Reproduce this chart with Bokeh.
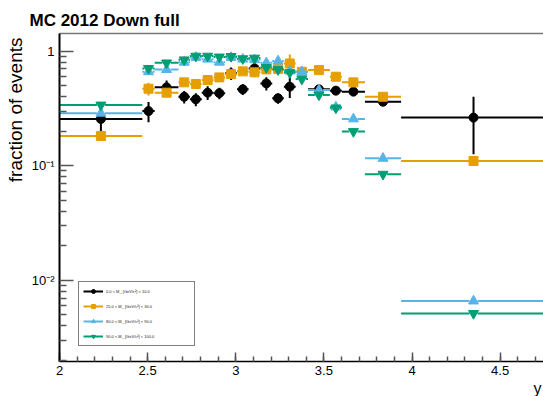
import math
import numpy as np
from bokeh.plotting import figure
from bokeh.models import (Range1d, LinearAxis, FixedTicker, SingleIntervalTicker,
                          CustomJSTickFormatter, Title, Legend, LegendItem, ColumnDataSource)
from bokeh.embed import file_html
from bokeh.resources import INLINE

# ---------------- data ----------------
bin_edges = [2.0, 2.47, 2.54, 2.675, 2.74, 2.807, 2.874, 2.94, 3.007, 3.073, 3.14,
             3.207, 3.273, 3.34, 3.41, 3.534, 3.602, 3.733, 3.938, 4.76]

labels = ["0.0 < M_ [GeV/c\u00b2] < 10.0",
          "25.0 < M_ [GeV/c\u00b2] < 30.0",
          "80.0 < M_ [GeV/c\u00b2] < 90.0",
          "90.0 < M_ [GeV/c\u00b2] < 100.0"]

black_vals = [0.256, 0.30, 0.483, 0.40, 0.38, 0.434, 0.43, 0.64, 0.464, 0.707, 0.523,
              0.388, 0.49, float("nan"), 0.464, 0.452, 0.443, 0.362, 0.263]
black_errs = [0.075, 0.06, 0.07, 0.05, 0.05, 0.06, 0.05, 0.08, 0.05, 0.11, 0.07,
              0.04, 0.10, float("nan"), 0.02, 0.02, 0.02, 0.02, 0.137]

orange_vals = [0.182, 0.47, 0.434, 0.534, 0.517, 0.56, 0.59, 0.63, 0.666, 0.653, 0.693,
               0.70, 0.78, 0.66, 0.683, 0.598, 0.534, 0.40, 0.110]
orange_errs = [0.005, 0.06, 0.02, 0.02, 0.02, 0.02, 0.02, 0.02, 0.02, 0.02, 0.02,
               0.03, 0.155, 0.03, 0.02, 0.02, 0.02, 0.01, 0.003]

blue_vals = [0.287, 0.66, 0.69, 0.80, 0.88, 0.85, 0.80, 0.88, 0.85, 0.84, 0.79,
             0.82, 0.67, 0.66, 0.458, 0.325, 0.256, 0.116, 0.0066]
blue_errs = [0.01, 0.03, 0.02, 0.02, 0.02, 0.02, 0.02, 0.02, 0.02, 0.02, 0.02,
             0.02, 0.03, 0.02, 0.01, 0.01, 0.005, 0.003, 0.0002]

teal_vals = [0.339, 0.707, 0.79, 0.84, 0.905, 0.905, 0.89, 0.90, 0.86, 0.87, 0.72,
             0.69, 0.65, 0.57, 0.415, 0.32, 0.199, 0.0844, 0.00515]
teal_errs = [0.01, 0.03, 0.02, 0.02, 0.02, 0.02, 0.02, 0.02, 0.02, 0.02, 0.02,
             0.02, 0.03, 0.02, 0.01, 0.01, 0.005, 0.003, 0.0002]

x_major_interval = 0.5
y_major_ticks = [0.01, 0.1, 1.0]
y_minor_ticks = [m * 10.0 ** e for e in (-3, -2, -1, 0) for m in range(2, 10)]

# ---------------- figure ----------------
p = figure(width=543, height=396, x_range=Range1d(2.0, 4.746), y_range=Range1d(0.00196, 1.425),
           y_axis_type="log", output_backend="svg", toolbar_location=None, title=None,
           min_border_left=58, min_border_right=0, min_border_top=33, min_border_bottom=34)
p.background_fill_color = "white"
p.border_fill_color = "white"
p.outline_line_color = None
p.xgrid.visible = False
p.ygrid.visible = False

FONT = "Liberation Sans"

xa = p.xaxis[0]
xa.ticker = SingleIntervalTicker(interval=x_major_interval, num_minor_ticks=5)
xa.formatter = CustomJSTickFormatter(code="return String(Math.round(tick*10)/10);")
xa.major_tick_in = 9
xa.major_tick_out = 0
xa.minor_tick_in = 5
xa.minor_tick_out = 0
xa.axis_line_color = "black"
xa.axis_line_width = 1.5
xa.major_tick_line_color = "#555555"
xa.minor_tick_line_color = "#555555"
xa.major_tick_line_width = 1.5
xa.minor_tick_line_width = 1.5
xa.major_label_text_font = FONT
xa.major_label_text_font_size = "13px"
xa.major_label_text_color = "black"
xa.major_label_standoff = 4

ya = p.yaxis[0]
ya.ticker = FixedTicker(ticks=y_major_ticks, minor_ticks=y_minor_ticks)
ya.formatter = CustomJSTickFormatter(code="""
const e = Math.round(Math.log10(tick));
if (e == 0) return '1';
const sup = {'-':'\u207b','0':'\u2070','1':'\u00b9','2':'\u00b2','3':'\u00b3'};
let s = '';
for (const c of String(e)) s += sup[c];
return '10' + s;
""")
ya.major_tick_in = 14
ya.major_tick_out = 0
ya.minor_tick_in = 7
ya.minor_tick_out = 0
ya.axis_line_color = "black"
ya.axis_line_width = 2
ya.major_tick_line_color = "#555555"
ya.minor_tick_line_color = "#555555"
ya.major_tick_line_width = 1.5
ya.minor_tick_line_width = 1.5
ya.major_label_text_font = FONT
ya.major_label_text_font_size = "13px"
ya.major_label_text_color = "black"
ya.major_label_standoff = 5

top = LinearAxis(ticker=FixedTicker(ticks=[]), axis_line_color="#777777", axis_line_width=1.5,
                 major_tick_in=0, major_tick_out=0, minor_tick_in=0, minor_tick_out=0)
p.add_layout(top, "above")

# ---------------- series ----------------
gap = 0.023
edges = np.array(bin_edges)
lo_e = edges[:-1]
hi_e = edges[1:]
xc = (lo_e + hi_e) / 2.0

series = [
    (labels[0], "#000000", "circle", black_vals, black_errs, 9),
    (labels[1], "#E69F00", "square", orange_vals, orange_errs, 9),
    (labels[2], "#56B4E9", "triangle", blue_vals, blue_errs, 10),
    (labels[3], "#009E73", "inverted_triangle", teal_vals, teal_errs, 10),
]

items = []
for lab, col, mk, vals, errs, sz in series:
    v = np.array(vals, dtype=float)
    e = np.array(errs, dtype=float)
    src = ColumnDataSource(dict(
        x=xc, y=v,
        xl0=lo_e, xl1=np.maximum(lo_e, xc - gap),
        xr0=np.minimum(hi_e, xc + gap), xr1=hi_e,
        ylo=v - e, yhi=v + e,
    ))
    r1 = p.segment("xl0", "y", "xl1", "y", source=src, line_color=col, line_width=2)
    p.segment("xr0", "y", "xr1", "y", source=src, line_color=col, line_width=2)
    p.segment("x", "ylo", "x", "yhi", source=src, line_color=col, line_width=2)
    r2 = p.scatter("x", "y", source=src, marker=mk, size=sz, fill_color=col, line_color=col)
    items.append(LegendItem(label=lab, renderers=[r1, r2]))

legend = Legend(items=items, location=(19, 15),
                label_text_font=FONT, label_text_font_size="4px", label_text_color="#222222",
                glyph_width=20, glyph_height=10, label_height=10, label_width=84,
                spacing=5, padding=4, margin=0, label_standoff=3,
                border_line_color="black", border_line_width=1,
                background_fill_color="white", background_fill_alpha=1.0)
p.add_layout(legend)

# ---------------- texts ----------------
p.add_layout(Title(text="MC 2012 Down full", align="left", offset=-30, standoff=8,
                   text_font=FONT, text_font_style="bold", text_font_size="17px",
                   text_color="black"), "above")
p.add_layout(Title(text="fraction of events", align="right", offset=4, standoff=5,
                   text_font=FONT, text_font_style="normal", text_font_size="19px",
                   text_color="black"), "left")
p.add_layout(Title(text="y", align="right", offset=2, standoff=0,
                   text_font=FONT, text_font_style="normal", text_font_size="16px",
                   text_color="black"), "below")

open("out.html", "w").write(file_html(p, INLINE))
